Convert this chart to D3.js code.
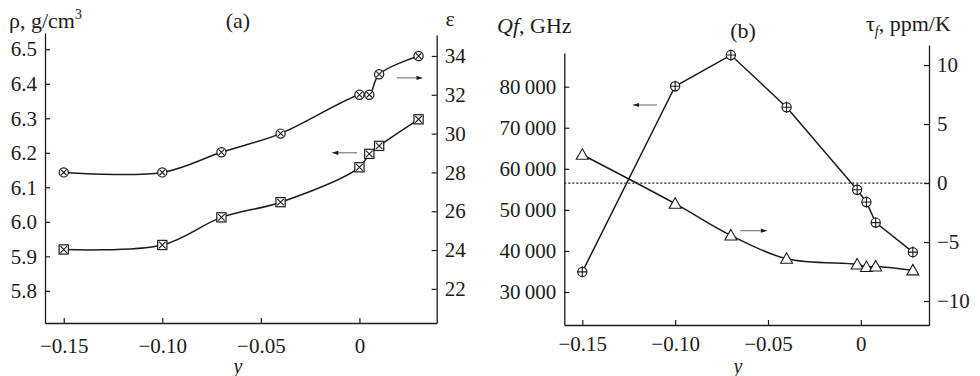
<!DOCTYPE html>
<html><head><meta charset="utf-8">
<script src="https://cdn.jsdelivr.net/npm/d3@7/dist/d3.min.js"></script>
<style>
html,body{margin:0;padding:0;background:#fff;}
svg{display:block;}
svg text{font-family:"Liberation Serif","Times New Roman",Times,"Tinos","DejaVu Serif","Noto Serif",serif !important;fill:#1c1c1c;}
</style></head>
<body>
<svg id="c" width="980" height="376"></svg>
<script>
// ---------- data ----------
const yA = [-0.15, -0.10, -0.07, -0.04, 0, 0.005, 0.01, 0.03];
const rho = [5.92, 5.933, 6.013, 6.057, 6.158, 6.197, 6.22, 6.297];
const eps = [28.0, 28.0, 29.04, 30.0, 32.0, 32.0, 33.06, 34.0];
const yB = [-0.15, -0.10, -0.07, -0.04, -0.002, 0.003, 0.008, 0.028];
const qf = [34900, 80100, 87700, 75000, 54900, 51900, 46900, 39700];
const tau = [2.4, -1.75, -4.44, -6.42, -6.9, -7.12, -7.07, -7.4];

const xTicks = [-0.15, -0.10, -0.05, 0];
const xTickLabels = ["\u22120.15", "\u22120.10", "\u22120.05", "0"];
const rhoTicks = [5.8, 5.9, 6.0, 6.1, 6.2, 6.3, 6.4, 6.5];
const epsTicks = [22, 24, 26, 28, 30, 32, 34];
const qfTicks = [30000, 40000, 50000, 60000, 70000, 80000];
const tauTicks = [-10, -5, 0, 5, 10];

// annotation arrows in data units: [x from, x to, value]
const arrowEps = [0.019, 0.032, 32.87];
const arrowRho = [-0.0012, -0.0138, 6.2];
const arrowQf = [-0.1098, -0.1227, 75540];
const arrowTau = [-0.065, -0.0506, -4.04];

const ink = "#1c1c1c";
const FONT = '"Liberation Serif","Times New Roman",Times,Tinos,"DejaVu Serif","Noto Serif",serif';
const svg = d3.select("#c");
const FS = 21;

// ---------- scales ----------
const xA = d3.scaleLinear().domain([-0.1595, 0.0392]).range([45, 436.7]);
const yRho = d3.scaleLinear().domain([5.707, 6.547]).range([323, 33]);
const yEps = d3.scaleLinear().domain([20.24, 35.08]).range([323, 35]);

const xB = d3.scaleLinear().domain([-0.1597, 0.0367]).range([564.3, 929]);
const yQf = d3.scaleLinear().domain([21965, 88200]).range([325, 53]);
const yTau = d3.scaleLinear().domain([-12.03, 11.7]).range([325, 45]);

const defs = svg.append("defs");
defs.append("marker").attr("id","ah").attr("viewBox","0 0 10 10").attr("refX",10).attr("refY",5)
  .attr("markerWidth",7).attr("markerHeight",6).attr("markerUnits","userSpaceOnUse").attr("orient","auto")
  .append("path").attr("d","M0,1.5 L10,5 L0,8.5 Z").attr("fill",ink);

function styleAxis(g, fs){
  g.attr("font-family", FONT);
  g.selectAll("path.domain").attr("stroke", ink).attr("stroke-width", 1.3);
  g.selectAll(".tick line").attr("stroke", ink).attr("stroke-width", 1.2);
  g.selectAll(".tick text").attr("font-size", fs).attr("font-family", FONT).attr("fill", ink);
}

function panel(x, yL, yR, bottomY, lTicks, lFmt, rTicks, rFmt, padB){
  const gx = svg.append("g").attr("transform", `translate(0,${bottomY})`)
    .call(d3.axisBottom(x).tickValues(xTicks).tickFormat((d,i)=>xTickLabels[i]).tickSizeInner(-5).tickSizeOuter(0).tickPadding(padB));
  styleAxis(gx, FS);
  const gl = svg.append("g").attr("transform", `translate(${x.range()[0]},0)`)
    .call(d3.axisLeft(yL).tickValues(lTicks).tickFormat(lFmt).tickSizeInner(-5).tickSizeOuter(0).tickPadding(8));
  styleAxis(gl, FS);
  const gr = svg.append("g").attr("transform", `translate(${x.range()[1]},0)`)
    .call(d3.axisRight(yR).tickValues(rTicks).tickFormat(rFmt).tickSizeInner(-5).tickSizeOuter(0).tickPadding(8));
  styleAxis(gr, FS);
}

panel(xA, yRho, yEps, 323, rhoTicks, d3.format(".1f"), epsTicks, d3.format("d"), 15);
const qfFmt = d => { const s = String(d); return s.slice(0, s.length-3) + "\u2009" + s.slice(-3); };
const tauFmt = d => (d < 0 ? "\u2212" + Math.abs(d) : String(d));
panel(xB, yQf, yTau, 325, qfTicks, qfFmt, tauTicks, tauFmt, 11);

// ---------- zero line ----------
svg.append("line").attr("x1", xB.range()[0]).attr("x2", xB.range()[1])
  .attr("y1", yTau(0)).attr("y2", yTau(0))
  .attr("stroke", ink).attr("stroke-width", 1.3).attr("stroke-dasharray", "2,2");

// ---------- lines ----------
function drawLine(xs, ys, x, y, curve){
  const pts = xs.map((v,i)=>[x(v), y(ys[i])]);
  svg.append("path").attr("d", d3.line().curve(curve)(pts))
    .attr("fill","none").attr("stroke", ink).attr("stroke-width", 1.5);
  return pts;
}
const smooth = d3.curveCatmullRom.alpha(0.5);
const pEps = drawLine(yA, eps, xA, yEps, smooth);
const pRho = drawLine(yA, rho, xA, yRho, smooth);
const pQf = drawLine(yB, qf, xB, yQf, d3.curveLinear);
const pTau = drawLine(yB, tau, xB, yTau, smooth);

// ---------- markers ----------
const r = 4.6;
function circX(p){
  const g = svg.append("g").attr("transform", `translate(${p[0]},${p[1]})`);
  g.append("circle").attr("r", r).attr("fill","#fff").attr("stroke",ink).attr("stroke-width",1.2);
  const k = r*0.62;
  g.append("path").attr("d", `M${-k},${-k}L${k},${k}M${-k},${k}L${k},${-k}`).attr("stroke",ink).attr("stroke-width",1.1);
}
function sqX(p){
  const g = svg.append("g").attr("transform", `translate(${p[0]},${p[1]})`);
  const s = 4.6;
  g.append("rect").attr("x",-s).attr("y",-s).attr("width",2*s).attr("height",2*s).attr("fill","#fff").attr("stroke",ink).attr("stroke-width",1.2);
  const k = s*0.72;
  g.append("path").attr("d", `M${-k},${-k}L${k},${k}M${-k},${k}L${k},${-k}`).attr("stroke",ink).attr("stroke-width",1.1);
}
function circPlus(p){
  const g = svg.append("g").attr("transform", `translate(${p[0]},${p[1]})`);
  g.append("circle").attr("r", r).attr("fill","#fff").attr("stroke",ink).attr("stroke-width",1.2);
  g.append("path").attr("d", `M${-r},0L${r},0M0,${-r-1}L0,${r+1}`).attr("stroke",ink).attr("stroke-width",1.1);
}
function tri(p){
  const g = svg.append("g").attr("transform", `translate(${p[0]},${p[1]})`);
  g.append("path").attr("d","M0,-6L6,4.5L-6,4.5Z").attr("fill","#fff").attr("stroke",ink).attr("stroke-width",1.1);
}
pEps.forEach(circX);
pRho.forEach(sqX);
pQf.forEach(circPlus);
pTau.forEach(tri);

// ---------- arrows ----------
function arrow(a, x, y){
  svg.append("line").attr("x1", x(a[0])).attr("x2", x(a[1])).attr("y1", y(a[2])).attr("y2", y(a[2]))
    .attr("stroke", "#666").attr("stroke-width", 1).attr("marker-end","url(#ah)");
}
arrow(arrowEps, xA, yEps);
arrow(arrowRho, xA, yRho);
arrow(arrowQf, xB, yQf);
arrow(arrowTau, xB, yTau);

// ---------- titles ----------
function txt(x, y, anchor){
  return svg.append("text").attr("x", x).attr("y", y).attr("text-anchor", anchor || "start")
    .attr("font-size", 22).attr("font-family", FONT);
}
const tRho = txt(9, 28);
tRho.append("tspan").text("\u03c1, g/cm");
tRho.append("tspan").attr("dy", -9).attr("font-size", 14).text("3");
txt(238, 28, "middle").text("(a)");
txt(450, 26, "middle").text("\u03b5");
txt(238, 373, "middle").attr("font-size", 20).attr("font-style","italic").text("y");

const tQ = txt(497, 33);
tQ.append("tspan").attr("font-style","italic").text("Qf");
tQ.append("tspan").text(", GHz");
txt(743, 38, "middle").text("(b)");
const tT = txt(866, 31);
tT.append("tspan").text("\u03c4");
tT.append("tspan").attr("dy", 5).attr("font-size", 14).attr("font-style","italic").text("f");
tT.append("tspan").attr("dy", -5).text(", ppm/K");
txt(738, 373, "middle").attr("font-size", 20).attr("font-style","italic").text("y");
</script>
</body></html>
